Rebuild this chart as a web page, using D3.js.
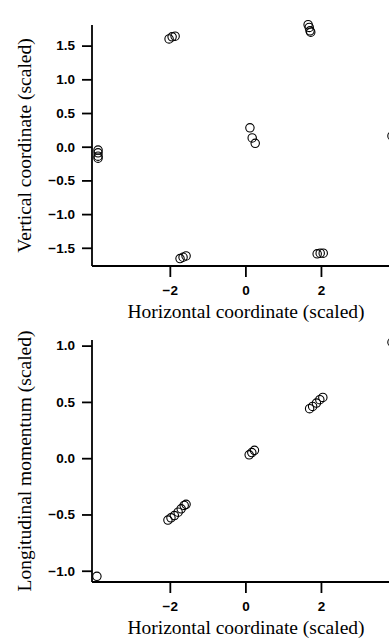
<!DOCTYPE html>
<html>
<head>
<meta charset="utf-8">
<script src="https://cdn.jsdelivr.net/npm/d3@7"></script>
<style>
  body { margin: 0; background: #fff; }
  .tick text { font-family: "Liberation Sans", Arial, sans-serif; font-weight: bold; font-size: 13.5px; }
  .title { font-family: "Liberation Serif", "Times New Roman", serif; font-size: 19.5px; }
</style>
</head>
<body>
<div id="root"></div>
<script>
const width = 389
const height = 641

// top panel: horizontal vs vertical coordinate
const topX = [-3.9, -3.9, -3.9, -3.9, -2.02, -1.94, -1.86, 1.66, 1.69, 1.71, 1.73, 0.12, 0.18, 0.26, -1.73, -1.65, -1.57, 1.9, 1.98, 2.06, 3.88]
const topY = [-0.05, -0.09, -0.14, -0.17, 1.60, 1.63, 1.64, 1.81, 1.77, 1.72, 1.70, 0.28, 0.13, 0.05, -1.66, -1.64, -1.62, -1.59, -1.58, -1.58, 0.16]

// bottom panel: horizontal coordinate vs longitudinal momentum
const botX = [-3.93, -2.05, -1.97, -1.88, -1.78, -1.70, -1.62, -1.57, 0.10, 0.17, 0.24, 1.70, 1.78, 1.88, 1.97, 2.05, 3.88]
const botY = [-1.05, -0.55, -0.53, -0.51, -0.48, -0.45, -0.42, -0.41, 0.03, 0.05, 0.07, 0.44, 0.46, 0.49, 0.52, 0.54, 1.03]

const xTicks = [-2, 0, 2]
const topYTicks = [-1.5, -1.0, -0.5, 0.0, 0.5, 1.0, 1.5]
const botYTicks = [-1.0, -0.5, 0.0, 0.5, 1.0]

const svg = d3.select('#root').append('svg')
  .attr('width', width)
  .attr('height', height)

function panel (xs, ys, yTicks, yDomain, top, bottom, yLabel) {
  const x = d3.scaleLinear().domain([-4.06, 3.96]).range([92, 395])
  const y = d3.scaleLinear().domain(yDomain).range([bottom, top])

  const g = svg.append('g')

  const xAxis = g.append('g')
    .attr('transform', `translate(0,${bottom})`)
    .call(d3.axisBottom(x).tickValues(xTicks).tickSize(11).tickPadding(8).tickFormat(d3.format('d')))
  const yAxis = g.append('g')
    .attr('transform', 'translate(92,0)')
    .call(d3.axisLeft(y).tickValues(yTicks).tickSize(10).tickPadding(7).tickFormat(d3.format('.1f')))

  for (const a of [xAxis, yAxis]) {
    a.select('.domain').attr('stroke-width', 1.8)
    a.selectAll('.tick line').attr('stroke-width', 1.8)
    a.selectAll('.tick text').attr('fill', '#000')
  }
  // d3 draws outer ticks on the domain, remove them
  xAxis.select('.domain').attr('d', `M${x.range()[0]},0H${x.range()[1]}`)
  yAxis.select('.domain').attr('d', `M0,${y.range()[0]}V${y.range()[1]}`)

  g.selectAll('circle')
    .data(xs.map((d, i) => [d, ys[i]]))
    .join('circle')
    .attr('cx', d => x(d[0]))
    .attr('cy', d => y(d[1]))
    .attr('r', 4.2)
    .attr('fill', 'none')
    .attr('stroke', '#000')
    .attr('stroke-width', 1.1)

  g.append('text')
    .attr('class', 'title')
    .attr('x', 246)
    .attr('y', bottom + 52)
    .attr('text-anchor', 'middle')
    .text('Horizontal coordinate (scaled)')

  g.append('text')
    .attr('class', 'title')
    .attr('transform', `translate(31,${(top + bottom) / 2}) rotate(-90)`)
    .attr('text-anchor', 'middle')
    .text(yLabel)
}

panel(topX, topY, topYTicks, [-1.77, 1.806], 25, 266, 'Vertical coordinate (scaled)')
panel(botX, botY, botYTicks, [-1.10, 1.05], 340, 582, 'Longitudinal momentum (scaled)')
</script>
</body>
</html>
